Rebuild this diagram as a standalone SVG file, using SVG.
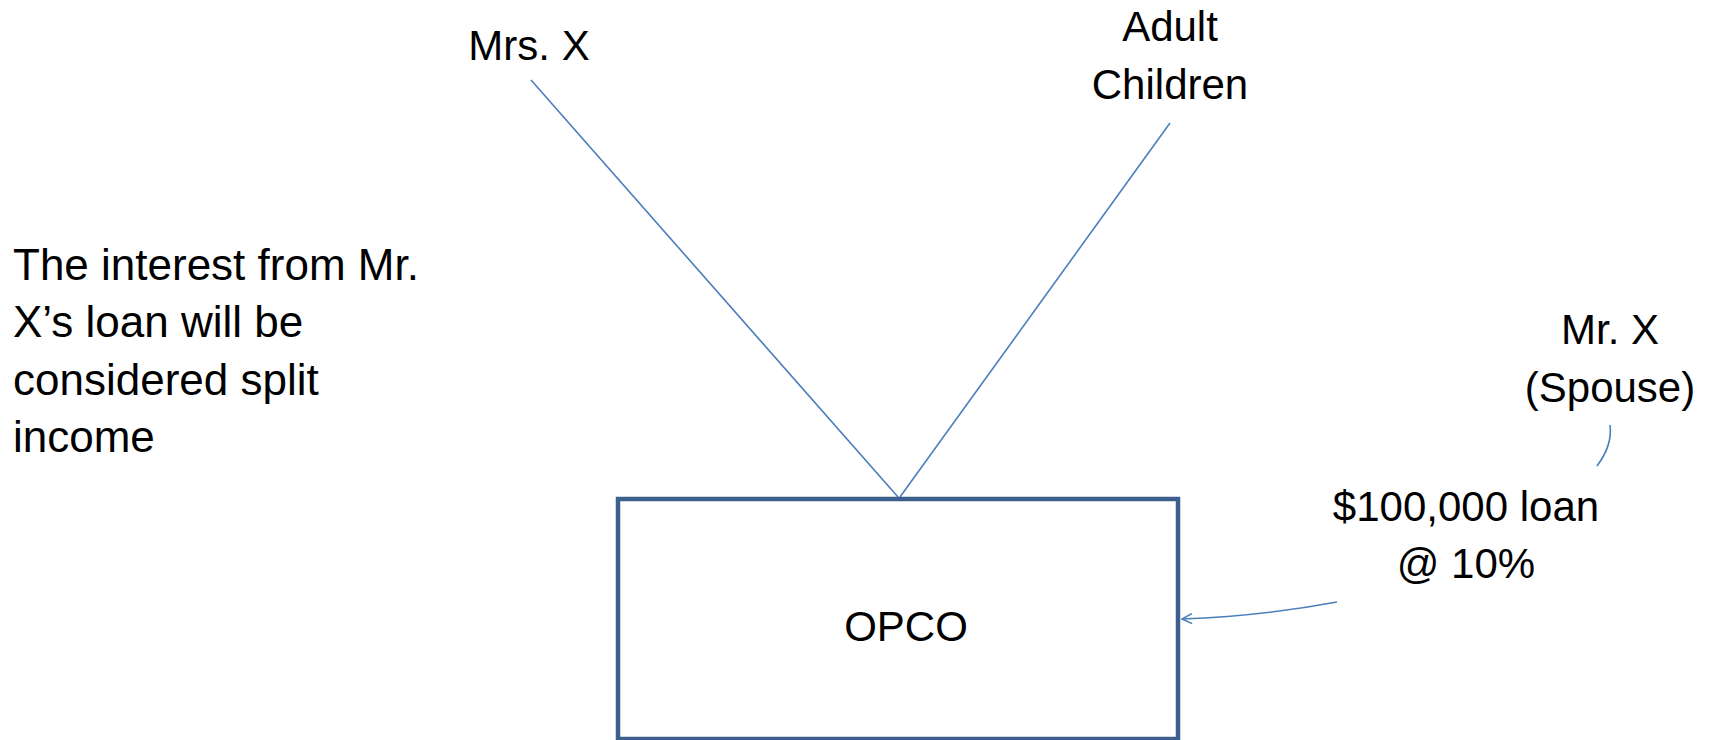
<svg xmlns="http://www.w3.org/2000/svg" width="1709" height="740" viewBox="0 0 1709 740">
<style>
  text { font-family: "Liberation Sans", Arial, sans-serif; font-size: 42px; fill: #000; }
  .c { text-anchor: middle; }
  .note { font-size: 44px; }
  .conn { fill: none; stroke: #4A7EBB; stroke-width: 1.6; }
  .box { fill: #fff; stroke: #3D5F8D; stroke-width: 4.5; }
</style>
<defs>
  <marker id="open" viewBox="0 0 12 12" refX="11" refY="6" markerWidth="12" markerHeight="12" markerUnits="userSpaceOnUse" orient="auto">
    <path d="M1,1 L11,6 L1,11" fill="none" stroke="#4A7EBB" stroke-width="1.6"/>
  </marker>
</defs>
<rect width="1709" height="740" fill="#fff"/>
<g id="connectors">
  <line class="conn" x1="531" y1="80" x2="898" y2="497"/>
  <line class="conn" x1="1170" y1="123" x2="900" y2="497"/>
  <path class="conn" d="M1610,425 C1612,440 1606,454 1597,466"/>
  <path class="conn" d="M1337,602 Q1262,616 1182,619" marker-end="url(#open)"/>
</g>
<g id="opco">
  <rect class="box" x="618" y="499" width="560" height="240"/>
  <text class="c" x="906" y="641">OPCO</text>
</g>
<g id="mrs-x">
  <text class="c" x="529" y="60">Mrs. X</text>
</g>
<g id="adult-children">
  <text class="c" x="1170" y="41">Adult</text>
  <text class="c" x="1170" y="99">Children</text>
</g>
<g id="mr-x">
  <text class="c" x="1610" y="344">Mr. X</text>
  <text class="c" x="1610" y="402">(Spouse)</text>
</g>
<g id="loan-label">
  <text class="c" x="1466" y="521">$100,000 loan</text>
  <text class="c" x="1466" y="578">@ 10%</text>
</g>
<g id="note">
  <text class="note" x="13" y="280">The interest from Mr.</text>
  <text class="note" x="13" y="337">X’s loan will be</text>
  <text class="note" x="13" y="395">considered split</text>
  <text class="note" x="13" y="452">income</text>
</g>
</svg>
